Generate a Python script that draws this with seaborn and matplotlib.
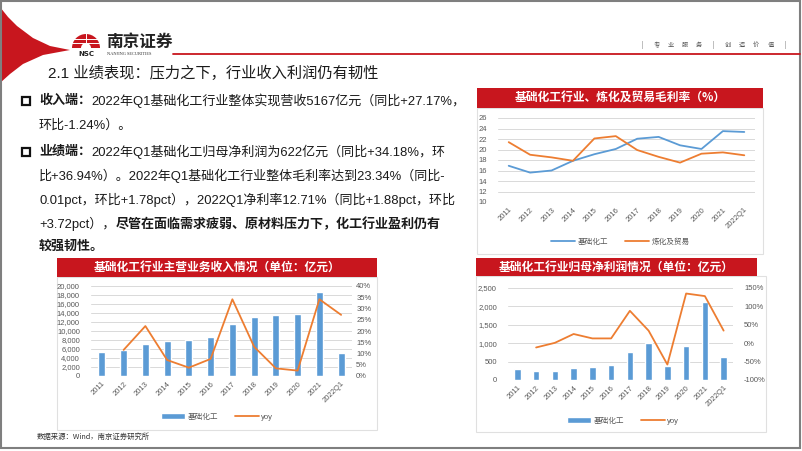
import numpy as np
import pandas as pd
import matplotlib.pyplot as plt
import seaborn as sns
from matplotlib.patches import Rectangle, Polygon, Wedge, Patch
from matplotlib.lines import Line2D
from matplotlib.ticker import FuncFormatter

# data
years = ["2011", "2012", "2013", "2014", "2015", "2016",
         "2017", "2018", "2019", "2020", "2021", "2022Q1"]
margin_chem = [16.9, 15.6, 16.0, 17.85, 19.1, 20.1, 22.05, 22.4, 20.8, 20.1, 23.5, 23.34]
margin_refine = [21.4, 19.0, 18.5, 17.85, 22.1, 22.55, 19.9, 18.6, 17.5, 19.2, 19.45, 18.9]
revenue = [5300, 5850, 7200, 7700, 7950, 8650, 11550, 13100, 13550, 13850, 18650, 5167]
revenue_yoy = [11.6, 22.2, 7.1, 3.7, 7.6, 34.1, 13.0, 3.4, 2.4, 34.1, 27.17]   # from 2012
profit = [290, 250, 250, 316, 352, 397, 749, 993, 388, 930, 2110, 622]
profit_yoy = [-11.6, 1.0, 25.0, 13.0, 13.0, 88.0, 34.0, -58.0, 135.0, 128.0, 34.18]  # from 2012

W, H = 802, 451
RED = "#C8161E"
BLUE = "#5B9BD5"
ORANGE = "#ED7D31"
GRID = "#D9D9D9"
TICK = "#595959"

sns.set_style("white")
BODY = ["Liberation Sans", "Noto Sans CJK SC", "DejaVu Sans"]
CJK = ["Noto Sans CJK SC", "DejaVu Sans"]
plt.rcParams["font.family"] = BODY

fig = plt.figure(figsize=(W / 100, H / 100), dpi=100)
bg = fig.add_axes([0, 0, 1, 1])
bg.set_xlim(0, W)
bg.set_ylim(H, 0)
bg.axis("off")

# --- slide decoration ---
bg.add_patch(Polygon([(0, 7), (8, 17), (17, 26), (33, 38), (50, 46), (70, 50),
                      (43, 55), (23, 64), (10, 74), (0, 83)],
                     closed=True, facecolor=RED, edgecolor="none"))
# logo (y axis is flipped, so 180..360 is the upper half)
bg.add_patch(Wedge((86, 48), 14, 180, 360, facecolor=RED, edgecolor="none"))
for yy in (38.5, 42.5):
    bg.plot([71, 101], [yy, yy], color="white", lw=0.7)
bg.add_patch(Wedge((86, 48), 5, 180, 360, facecolor="white", edgecolor="none"))
bg.plot([85.5, 85.5], [33, 43], color="white", lw=0.7)
bg.text(86, 53.5, "NSC", fontsize=5, fontweight="bold", color="#222222",
        ha="center", va="center", family=["DejaVu Sans"])
bg.text(106, 42, "南京证券", fontsize=12, fontweight="bold", color="#222222",
        ha="left", va="center", family=CJK)
bg.text(107, 54, "NANJING SECURITIES", fontsize=3.2, color="#333333",
        ha="left", va="center", family=["Liberation Serif"])
bg.plot([173, 800], [54, 54], color=RED, lw=1.3)
for x, ch in zip(np.linspace(642, 785, 11), "|专业服务|创造价值|"):
    bg.text(x, 45, ch, fontsize=4.5, color="#555555", ha="center", va="center", family=CJK)
bg.add_patch(Rectangle((1, 1), W - 3, H - 4, fill=False, edgecolor="#7F7F7F", lw=1.5))

bg.text(48, 73, "2.1 业绩表现：压力之下，行业收入利润仍有韧性", fontsize=11,
        color="#1A1A1A", ha="left", va="center")

# --- bullet text ---
renderer = fig.canvas.get_renderer()


def rich_line(x, y, parts, size=9.4):
    for s, bold in parts:
        t = bg.text(x, y, s, fontsize=size, fontweight="bold" if bold else "normal",
                    color="#1A1A1A", ha="left", va="center")
        x += t.get_window_extent(renderer).width


for yy in (101, 152):
    bg.add_patch(Rectangle((21.5, yy - 4), 8, 8, fill=False, edgecolor="#111111", lw=1.6))

rich_line(39, 101, [("收入端：", True), ("2022年Q1基础化工行业整体实现营收5167亿元（同比+27.17%，", False)])
rich_line(39, 126, [("环比-1.24%）。", False)])
rich_line(39, 152, [("业绩端：", True), ("2022年Q1基础化工归母净利润为622亿元（同比+34.18%，环", False)])
rich_line(39, 176, [("比+36.94%）。2022年Q1基础化工行业整体毛利率达到23.34%（同比-", False)])
rich_line(39, 200, [("0.01pct，环比+1.78pct），2022Q1净利率12.71%（同比+1.88pct，环比", False)])
rich_line(39, 224, [("+3.72pct），", False), ("尽管在面临需求疲弱、原材料压力下，化工行业盈利仍有", True)])
rich_line(39, 247, [("较强韧性。", True)])

bg.text(37, 437, "数据来源：Wind，南京证券研究所", fontsize=5.3, color="#333333",
        ha="left", va="center", family=CJK)


# --- chart frames ---
def panel(x0, x1, y0, ybar, y1, title, xb1=None):
    bg.add_patch(Rectangle((x0, ybar), x1 - x0, y1 - ybar, facecolor="white",
                           edgecolor="#E0E0E0", lw=0.8))
    xb1 = xb1 or x1
    bg.add_patch(Rectangle((x0, y0), xb1 - x0, ybar - y0, facecolor=RED, edgecolor="none"))
    bg.text((x0 + xb1) / 2, (y0 + ybar) / 2, title, color="white", fontsize=8.5,
            fontweight="bold", ha="center", va="center", family=CJK)


def chart_axes(x0, y0, x1, y1):
    ax = fig.add_axes([x0 / W, 1 - y1 / H, (x1 - x0) / W, (y1 - y0) / H])
    ax.set_facecolor("none")
    return ax


def style(ax, ypad=6):
    for s in ax.spines.values():
        s.set_visible(False)
    ax.tick_params(length=0, labelsize=5.5, labelcolor=TICK)
    ax.tick_params(axis="y", pad=ypad)
    ax.set_xlabel("")
    ax.set_ylabel("")


def rotate_x(ax):
    ax.tick_params(axis="x", pad=3)
    for lab in ax.get_xticklabels():
        lab.set_rotation(45)
        lab.set_ha("right")
        lab.set_rotation_mode("anchor")


def legend(cx, cy, handles):
    fig.legend(handles=handles, loc="center", bbox_to_anchor=(cx / W, 1 - cy / H),
               ncol=2, frameon=False, fontsize=5.5, handlelength=3.2,
               columnspacing=2.2, handletextpad=0.3, labelcolor=TICK)


panel(477, 763, 88, 108, 254, "基础化工行业、炼化及贸易毛利率（%）")
panel(57, 377, 258, 277, 430, "基础化工行业主营业务收入情况（单位：亿元）")
panel(476, 766, 258, 276, 432, "基础化工行业归母净利润情况（单位：亿元）", xb1=757)

# top right: gross margin lines
margin_df = pd.DataFrame({
    "年份": years * 2,
    "毛利率": margin_chem + margin_refine,
    "行业": ["基础化工"] * len(years) + ["炼化及贸易"] * len(years),
})
ax = chart_axes(498, 118, 755, 202)
sns.lineplot(data=margin_df, x="年份", y="毛利率", hue="行业", palette=[BLUE, ORANGE],
             lw=1.3, sort=False, legend=False, ax=ax)
ax.set_ylim(10, 26)
ax.set_yticks(range(10, 27, 2))
ax.set_xlim(-0.5, len(years) - 0.5)
ax.yaxis.grid(True, color=GRID, lw=0.7)
ax.set_axisbelow(True)
style(ax, ypad=8)
rotate_x(ax)
legend(620, 242, [Line2D([], [], color=BLUE, lw=1.3, label="基础化工"),
                  Line2D([], [], color=ORANGE, lw=1.3, label="炼化及贸易")])


def bar_line(box, bars, yoy, ylim, ystep, rlim, rstep, leg_xy, bar_w, rpad):
    ax = chart_axes(*box)
    sns.barplot(x=years, y=bars, color=BLUE, saturation=1, width=bar_w, ax=ax)
    ax.set_ylim(*ylim)
    ax.set_yticks(np.arange(ylim[0], ylim[1] + 1, ystep))
    ax.yaxis.set_major_formatter(FuncFormatter(lambda v, p: f"{v:,.0f}"))
    ax.yaxis.grid(True, color=GRID, lw=0.7)
    ax.set_axisbelow(True)
    ax2 = ax.twinx()
    sns.lineplot(x=years[1:], y=yoy, color=ORANGE, lw=1.3, sort=False, ax=ax2)
    ax2.set_ylim(*rlim)
    ax2.set_yticks(np.arange(rlim[0], rlim[1] + 1, rstep))
    ax2.yaxis.set_major_formatter(FuncFormatter(lambda v, p: f"{v:.0f}%"))
    ax2.grid(False)
    ax.set_xlim(-0.5, len(years) - 0.5)
    style(ax, ypad=8)
    style(ax2, ypad=rpad)
    rotate_x(ax)
    legend(*leg_xy, [Patch(facecolor=BLUE, label="基础化工"),
                     Line2D([], [], color=ORANGE, lw=1.3, label="yoy")])


bar_line((91, 286, 352, 376), revenue, revenue_yoy, (0, 20000), 2000, (0, 40), 5,
         (217, 417), 0.33, 3)
bar_line((508, 288, 733, 380), profit, profit_yoy, (0, 2500), 500, (-100, 150), 50,
         (623, 421), 0.35, 8)

fig.savefig("out.png", dpi=100)
